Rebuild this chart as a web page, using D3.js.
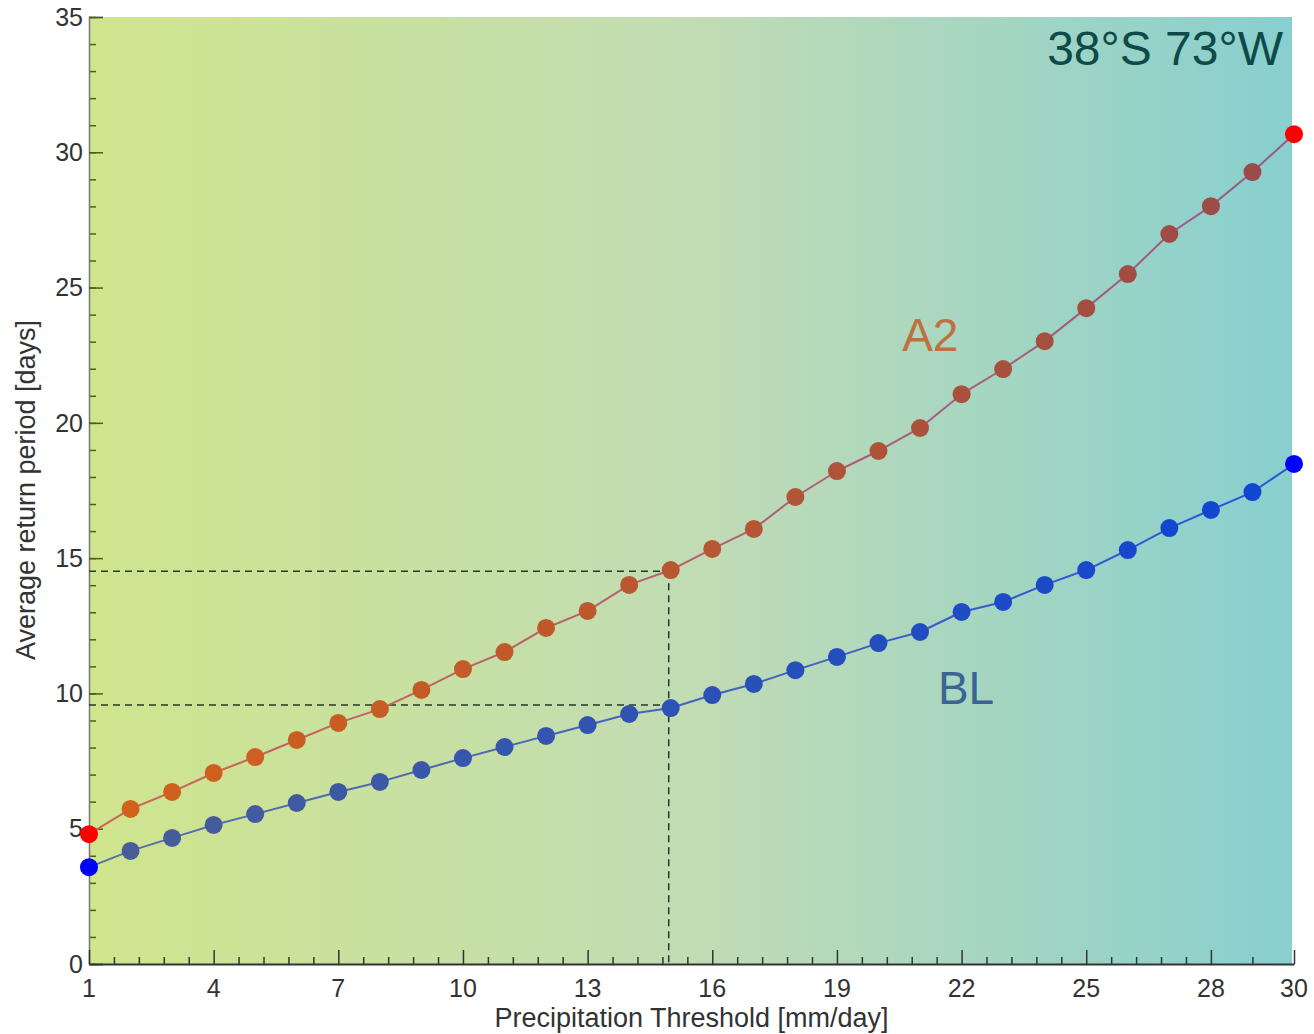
<!DOCTYPE html>
<html>
<head>
<meta charset="utf-8">
<script src="https://cdn.jsdelivr.net/npm/d3@7"></script>
<style>
	body { margin: 0; background: #fff; }
	text { font-family: "Liberation Sans", Arial, sans-serif; }
</style>
</head>
<body>
<script>
const thresholds = [1, 2, 3, 4, 5, 6, 7, 8, 9, 10, 11, 12, 13, 14, 15, 16, 17, 18, 19, 20, 21, 22, 23, 24, 25, 26, 27, 28, 29, 30];
const a2Values = [4.80, 5.73, 6.36, 7.06, 7.65, 8.28, 8.91, 9.42, 10.13, 10.90, 11.53, 12.42, 13.05, 14.01, 14.56, 15.34, 16.08, 17.26, 18.22, 18.96, 19.81, 21.06, 21.99, 23.02, 24.24, 25.50, 26.98, 28.01, 29.27, 30.67];
const blValues = [3.58, 4.18, 4.66, 5.14, 5.54, 5.95, 6.36, 6.73, 7.17, 7.61, 8.02, 8.43, 8.83, 9.24, 9.46, 9.94, 10.35, 10.86, 11.35, 11.86, 12.27, 13.01, 13.38, 14.01, 14.56, 15.30, 16.11, 16.78, 17.44, 18.48];
const xMajorTicks = [1, 4, 7, 10, 13, 16, 19, 22, 25, 28, 30];
const xMinorTicks = [1.6, 2.2, 2.8, 3.4, 4.6, 5.2, 5.8, 6.4, 7.6, 8.2, 8.8, 9.4, 10.6, 11.2, 11.8, 12.4, 13.6, 14.2, 14.8, 15.4, 16.6, 17.2, 17.8, 18.4, 19.6, 20.2, 20.8, 21.4, 22.6, 23.2, 23.8, 24.4, 25.6, 26.2, 26.8, 27.4, 29];
const yMajorTicks = [0, 5, 10, 15, 20, 25, 30, 35];
const guideX = 15;
const guideYs = [14.52, 9.57];

const width = 1314, height = 1034;
const margin = ({ top: 17, right: 20, bottom: 70, left: 89 });

const x = d3.scaleLinear()
	.domain([1, 30])
	.range([margin.left, width - margin.right]);

const y = d3.scaleLinear()
	.domain([0, 35])
	.range([height - margin.bottom, margin.top]);

const svg = d3.select("body").append("svg")
	.attr("width", width)
	.attr("height", height);

const grad = svg.append("defs").append("linearGradient")
	.attr("id", "bg")
	.attr("x1", 0).attr("x2", 1).attr("y1", 0).attr("y2", 0);
grad.append("stop").attr("offset", "0%").attr("stop-color", "#cfe58d");
grad.append("stop").attr("offset", "50%").attr("stop-color", "#c2dcb4");
grad.append("stop").attr("offset", "100%").attr("stop-color", "#88cfcf");

svg.append("rect")
	.attr("x", x(1))
	.attr("y", y(35))
	.attr("width", x(30) - x(1) - 2)
	.attr("height", y(0) - y(35))
	.attr("fill", "url(#bg)");

// axes
const yAxis = g => g
	.attr("transform", `translate(${x(1)},0)`)
	.call(d3.axisRight(y).tickValues(yMajorTicks).tickSize(14).tickFormat(""))
	.call(g => g.select(".domain").attr("stroke", "#777").attr("stroke-width", 1.5))
	.call(g => g.selectAll(".tick line").attr("stroke", "#4d5e14").attr("stroke-width", 1.5));

const yMinor = g => g
	.attr("transform", `translate(${x(1)},0)`)
	.call(d3.axisRight(y).ticks(35).tickSize(7).tickFormat(""))
	.call(g => g.select(".domain").remove())
	.call(g => g.selectAll(".tick line").attr("stroke", "#4d5e14").attr("stroke-width", 1.5));

const xAxis = g => g
	.attr("transform", `translate(0,${y(0)})`)
	.call(d3.axisTop(x).tickValues(xMajorTicks).tickSize(14).tickFormat("").tickSizeOuter(0))
	.call(g => g.select(".domain").attr("stroke", "#333").attr("stroke-width", 2))
	.call(g => g.selectAll(".tick line").attr("stroke", "#333").attr("stroke-width", 1.5));

const xMinor = g => g
	.attr("transform", `translate(0,${y(0)})`)
	.call(d3.axisTop(x).tickValues(xMinorTicks).tickSize(7).tickFormat(""))
	.call(g => g.select(".domain").remove())
	.call(g => g.selectAll(".tick line").attr("stroke", "#333").attr("stroke-width", 1.5));

svg.append("g").call(yMinor);
svg.append("g").call(yAxis);
svg.append("g").call(xMinor);
svg.append("g").call(xAxis);

svg.append("g")
	.selectAll("text")
	.data(yMajorTicks)
	.enter()
	.append("text")
	.attr("x", x(1) - 6)
	.attr("y", d => y(d))
	.attr("dy", "0.35em")
	.attr("text-anchor", "end")
	.attr("font-size", 25)
	.attr("fill", "#333")
	.text(d => d);

svg.append("g")
	.selectAll("text")
	.data(xMajorTicks)
	.enter()
	.append("text")
	.attr("x", d => x(d))
	.attr("y", y(0) + 33)
	.attr("text-anchor", "middle")
	.attr("font-size", 25)
	.attr("fill", "#333")
	.text(d => d);

// guides
guideYs.forEach(v => {
	svg.append("line")
		.attr("x1", x(1))
		.attr("x2", x(guideX) - 2)
		.attr("y1", y(v))
		.attr("y2", y(v))
		.attr("stroke", "#253a25")
		.attr("stroke-width", 1.5)
		.style("stroke-dasharray", "7,5");
});

svg.append("line")
	.attr("x1", x(guideX) - 2)
	.attr("x2", x(guideX) - 2)
	.attr("y1", y(guideYs[0]))
	.attr("y2", y(0))
	.attr("stroke", "#253a25")
	.attr("stroke-width", 1.5)
	.style("stroke-dasharray", "7,5");

// series
const series = [
	{ name: "A2", values: a2Values, line: d3.interpolateRgb("#cc6655", "#9a5a8a"), dot: d3.interpolateRgb("#d4621a", "#9a4a4a"), end: "#ff0000" },
	{ name: "BL", values: blValues, line: d3.interpolateRgb("#5a70a8", "#2a55d8"), dot: d3.interpolateRgb("#4a5e98", "#0f44d4"), end: "#0000ff" }
];

const n = thresholds.length;

series.forEach(s => {
	const pts = thresholds.map((t, i) => [t, s.values[i]]);
	svg.append("g")
		.selectAll("line")
		.data(d3.pairs(pts))
		.enter()
		.append("line")
		.attr("x1", d => x(d[0][0]))
		.attr("y1", d => y(d[0][1]))
		.attr("x2", d => x(d[1][0]))
		.attr("y2", d => y(d[1][1]))
		.attr("stroke", (d, i) => s.line(i / (n - 2)))
		.attr("stroke-width", 2);

	svg.append("g")
		.selectAll("circle")
		.data(pts)
		.enter()
		.append("circle")
		.attr("cx", d => x(d[0]))
		.attr("cy", d => y(d[1]))
		.attr("r", 9)
		.attr("fill", (d, i) => (i === 0 || i === n - 1) ? s.end : s.dot(i / (n - 1)));
});

// labels
svg.append("text")
	.attr("x", x(20.57))
	.attr("y", y(22.65))
	.attr("font-size", 46)
	.attr("fill", "#c0703c")
	.text("A2");

svg.append("text")
	.attr("x", x(21.43))
	.attr("y", y(9.6))
	.attr("font-size", 46)
	.attr("fill", "#3a6494")
	.text("BL");

svg.append("text")
	.attr("x", 1283)
	.attr("y", 65)
	.attr("text-anchor", "end")
	.attr("font-size", 48)
	.attr("fill", "#0e4a48")
	.text("38°S 73°W");

svg.append("text")
	.attr("x", (x(1) + x(30)) / 2)
	.attr("y", 1027)
	.attr("text-anchor", "middle")
	.attr("font-size", 27)
	.attr("fill", "#333")
	.text("Precipitation Threshold [mm/day]");

svg.append("text")
	.attr("transform", "rotate(-90)")
	.attr("x", -490)
	.attr("y", 35)
	.attr("text-anchor", "middle")
	.attr("font-size", 27)
	.attr("fill", "#333")
	.text("Average return period [days]");
</script>
</body>
</html>
